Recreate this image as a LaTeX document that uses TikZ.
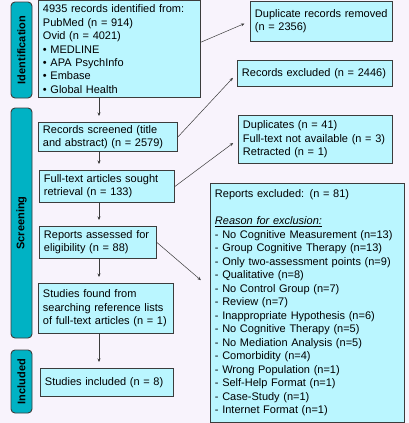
\documentclass[tikz,border=0pt]{standalone}
\usepackage{fontspec}
\setmainfont{Liberation Sans}
\usetikzlibrary{arrows.meta, positioning}
\definecolor{pagebg}{RGB}{248,243,252}
\definecolor{boxfill}{RGB}{186,246,255}
\definecolor{stagefill}{RGB}{0,178,196}
\definecolor{boxline}{RGB}{60,60,60}
\tikzstyle{record} = [rectangle, anchor=north west, draw=boxline, fill=boxfill, line width=0.9pt, inner xsep=4.5pt, inner ysep=1pt, align=left, font=\fontsize{11}{13.4}\selectfont]
\tikzstyle{stage} = [rectangle, rounded corners=4pt, draw=boxline, fill=stagefill, line width=0.9pt, rotate=90, inner sep=0pt, font=\fontsize{11}{13}\selectfont\bfseries]
\tikzstyle{flow} = [-{Stealth[length=3.5pt, width=3pt]}, draw=boxline, line width=0.5pt, shorten >=6pt]

\begin{document}
\begin{tikzpicture}[x=1pt, y=-1pt]
\fill [pagebg] (0,0) rectangle (409,423);
\useasboundingbox (0,0) rectangle (409,423);
% stages on the left
\node (identstage) [stage, minimum width=96pt, minimum height=21pt] at (21.5,50) {Identification};
\node (screenstage) [stage, minimum width=230pt, minimum height=21pt] at (21.5,223) {Screening};
\node (inclstage) [stage, minimum width=63pt, minimum height=21pt] at (21.5,381.5) {Included};
% main column
\node (identified) [record, text width=153pt, minimum height=96.5pt] at (38,0.5) {4935 records identified from:\\PubMed (n = 914)\\Ovid (n = 4021)\\• MEDLINE\\• APA PsychInfo\\• Embase\\• Global Health};
\node (screened) [record, text width=130pt, minimum height=29pt] at (38,122) {Records screened (title\\and abstract) (n = 2579)};
\node (sought) [record, text width=126pt, minimum height=32pt] at (39,170) {Full-text articles sought\\retrieval (n = 133)};
\node (assessed) [record, text width=108pt, minimum height=32pt] at (39,226) {Reports assessed for\\eligibility (n = 88)};
\node (found) [record, text width=126pt, minimum height=50pt] at (38,283) {Studies found from\\searching reference lists\\of full-text articles (n = 1)};
\node (included) [record, text width=124pt, minimum height=28pt] at (40,368) {Studies included (n = 8)};
% side column
\node (duplicates) [record, text width=133pt, minimum height=40.5pt] at (250,0.5) {Duplicate records removed\\(n = 2356)};
\node (excluded) [record, text width=146pt, minimum height=26pt] at (237,60) {Records excluded (n = 2446)};
\node (notretrieved) [record, text width=145pt, minimum height=48pt] at (238,115) {Duplicates (n = 41)\\Full-text not available (n = 3)\\Retracted (n = 1)};
\node (reasons) [record, text width=185pt, minimum height=239pt, font=\fontsize{11}{13.5}\selectfont] at (210,183) {Reports excluded: (n = 81)\\[13.5pt]\underline{\textit{Reason for exclusion:}}\\- No Cognitive Measurement (n=13)\\- Group Cognitive Therapy (n=13)\\- Only two-assessment points (n=9)\\- Qualitative (n=8)\\- No Control Group (n=7)\\- Review (n=7)\\- Inappropriate Hypothesis (n=6)\\- No Cognitive Therapy (n=5)\\- No Mediation Analysis (n=5)\\- Comorbidity (n=4)\\- Wrong Population (n=1)\\- Self-Help Format (n=1)\\- Case-Study (n=1)\\- Internet Format (n=1)};
% arrows
\coordinate (spine) at (99,0);
\draw [flow] (identified.south -| spine) -- (screened.north -| spine);
\draw [flow] (screened.south -| spine) -- (sought.north -| spine);
\draw [flow] (sought.south -| spine) -- (assessed.north -| spine);
\draw [flow] (assessed.south -| spine) -- (found.north -| spine);
\draw [flow] (found.south -| spine) -- (included.north -| spine);
\draw [flow] ([yshift=7pt]identified.east) -- (duplicates.west);
\draw [flow] (screened.east) -- (excluded.west);
\draw [flow] (sought.east) -- (notretrieved.west);
\draw [flow, shorten >=12pt] (assessed.east) -- ([yshift=15pt]reasons.west);
\end{tikzpicture}
\end{document}
